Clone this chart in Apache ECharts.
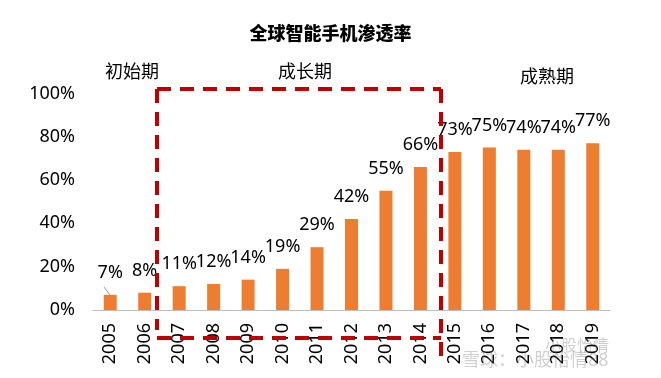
<!DOCTYPE html>
<html><head><meta charset="utf-8">
<script src="https://cdn.jsdelivr.net/npm/echarts@6/dist/echarts.min.js"></script>
<style>html,body{margin:0;padding:0;background:#fff}#c{width:661px;height:378px}</style>
</head><body><div id="c"></div>
<script>
const years = ['2005','2006','2007','2008','2009','2010','2011','2012','2013','2014','2015','2016','2017','2018','2019'];
const penetration = [7,8,11,12,14,19,29,42,55,66,73,75,74,74,77];
const yTicks = [0,20,40,60,80,100];
const phases = ['初始期','成长期','成熟期'];
const title = '全球智能手机渗透率';

const FONT = '"Noto Sans","Noto Sans CJK SC",sans-serif';
const chart = echarts.init(document.getElementById('c'));
const red = '#C00000';
const dash = [14, 9];
function line(x1,y1,x2,y2){
  return {type:'line', shape:{x1,y1,x2,y2}, style:{stroke:red, lineWidth:4, lineDash:dash}, z:10};
}
chart.setOption({
  animation:false,
  title:{text:title, left:'center', top:19, textStyle:{fontFamily:'"Noto Sans CJK SC",sans-serif', fontSize:18, fontWeight:900, color:'#000'}},
  grid:{left:93, right:51, top:93.4, bottom:68},
  xAxis:{type:'category', data:years,
    axisLine:{lineStyle:{color:'#BFBFBF', width:1}}, axisTick:{show:false},
    axisLabel:{rotate:90, interval:0, color:'#000', fontSize:18, fontFamily:FONT, margin:13}},
  yAxis:{type:'value', min:yTicks[0], max:yTicks[yTicks.length-1], interval:20,
    axisLine:{show:false}, axisTick:{show:false}, splitLine:{show:false},
    axisLabel:{formatter:'{value}%', color:'#000', fontSize:18, fontFamily:FONT, margin:18}},
  series:[{type:'bar', data:penetration, barWidth:13,
    itemStyle:{color:'#ED7D31'},
    label:{show:true, position:'top', distance:13, formatter:'{c}%', color:'#000', fontSize:18, fontFamily:FONT}}],
  graphic:[
    line(157,89,157,330),
    line(157,89,441,89),
    line(441,89,441,362),
    line(157,338,441,338),
    {type:'text', left:105, top:64, style:{text:phases[0], fontSize:18, fontFamily:FONT, fill:'#000'}},
    {type:'text', left:278, top:64, style:{text:phases[1], fontSize:18, fontFamily:FONT, fill:'#000'}},
    {type:'text', left:520, top:69, style:{text:phases[2], fontSize:18, fontFamily:FONT, fill:'#000'}},
    {type:'line', shape:{x1:104,y1:287,x2:110,y2:295}, style:{stroke:'#999', lineWidth:1}},
    {type:'text', left:545, top:338, style:{text:'小股怡情', fontSize:16, fontFamily:FONT, fill:'rgba(120,120,120,0.35)'}, z:20},
    {type:'text', left:462, top:352, style:{text:'雪球：小股怡情88', fontSize:18, fontFamily:FONT, fill:'rgba(120,120,120,0.35)'}, z:20}
  ]
});
</script></body></html>
